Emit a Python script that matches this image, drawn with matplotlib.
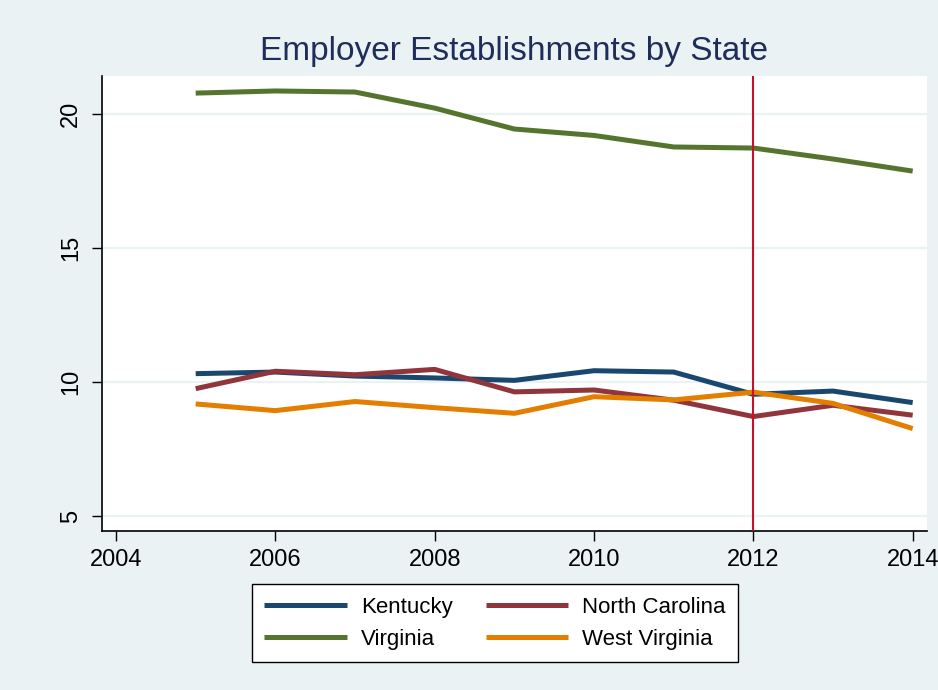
import matplotlib
matplotlib.use('Agg')
import matplotlib.pyplot as plt

## data
years = [2005, 2006, 2007, 2008, 2009, 2010, 2011, 2012, 2013, 2014]
kentucky = [10.31, 10.37, 10.22, 10.15, 10.06, 10.42, 10.37, 9.54, 9.66, 9.23]
north_carolina = [9.75, 10.40, 10.27, 10.47, 9.63, 9.70, 9.32, 8.71, 9.13, 8.76]
virginia = [20.78, 20.86, 20.82, 20.22, 19.44, 19.20, 18.77, 18.73, 18.32, 17.87]
west_virginia = [9.18, 8.93, 9.27, 9.04, 8.83, 9.45, 9.33, 9.62, 9.20, 8.26]
ref_year = 2012
x_ticks = [2004, 2006, 2008, 2010, 2012, 2014]
y_ticks = [5, 10, 15, 20]

plt.rcParams['font.family'] = ['Liberation Sans', 'DejaVu Sans']

bg = '#eaf2f3'
fig = plt.figure(figsize=(9.38, 6.9), dpi=100, facecolor=bg)
ax = fig.add_axes([0.1084, 0.2309, 0.8799, 0.6594])
ax.set_facecolor('white')

## grid lines
for y in y_ticks:
    ax.axhline(y, color=bg, lw=1.6, zorder=0)

lw = 3.6
ax.plot(years, kentucky, color='#1a476f', lw=lw, label='Kentucky', solid_capstyle='butt')
ax.plot(years, north_carolina, color='#90353b', lw=lw, label='North Carolina', solid_capstyle='butt')
ax.plot(years, virginia, color='#55752f', lw=lw, label='Virginia', solid_capstyle='butt')
ax.plot(years, west_virginia, color='#e37e00', lw=lw, label='West Virginia', solid_capstyle='butt')
ax.axvline(ref_year, color='#c8102e', lw=1.5, zorder=3)

ax.set_xlim(2003.82, 2014.18)
ax.set_ylim(4.45, 21.43)
ax.set_xticks(x_ticks)
ax.set_yticks(y_ticks)
ax.tick_params(axis='both', direction='out', length=7, width=1, labelsize=17, colors='black')
ax.tick_params(axis='x', pad=6)
ax.tick_params(axis='y', pad=7)
for lab in ax.get_yticklabels():
    lab.set_rotation(90)
    lab.set_va('center')

for s in ['top', 'right']:
    ax.spines[s].set_visible(False)
for s in ['left', 'bottom']:
    ax.spines[s].set_linewidth(1.2)

fig.text(0.548, 0.925, 'Employer Establishments by State', ha='center', va='center',
         fontsize=24, color='#1f2d5a')

## legend order: Kentucky, North Carolina / Virginia, West Virginia (row-wise)
h, l = ax.get_legend_handles_labels()
order = [0, 2, 1, 3]
leg = fig.legend([h[i] for i in order], [l[i] for i in order], ncol=2,
                 loc='center', bbox_to_anchor=(0.5277, 0.097), fontsize=16,
                 frameon=True, fancybox=False, edgecolor='black', framealpha=1,
                 handlelength=3.7, columnspacing=1.5, handletextpad=0.63,
                 labelspacing=0.5, borderpad=0.55, borderaxespad=0)
leg.get_frame().set_linewidth(1.0)

fig.savefig('out.png', dpi=100, facecolor=bg)
